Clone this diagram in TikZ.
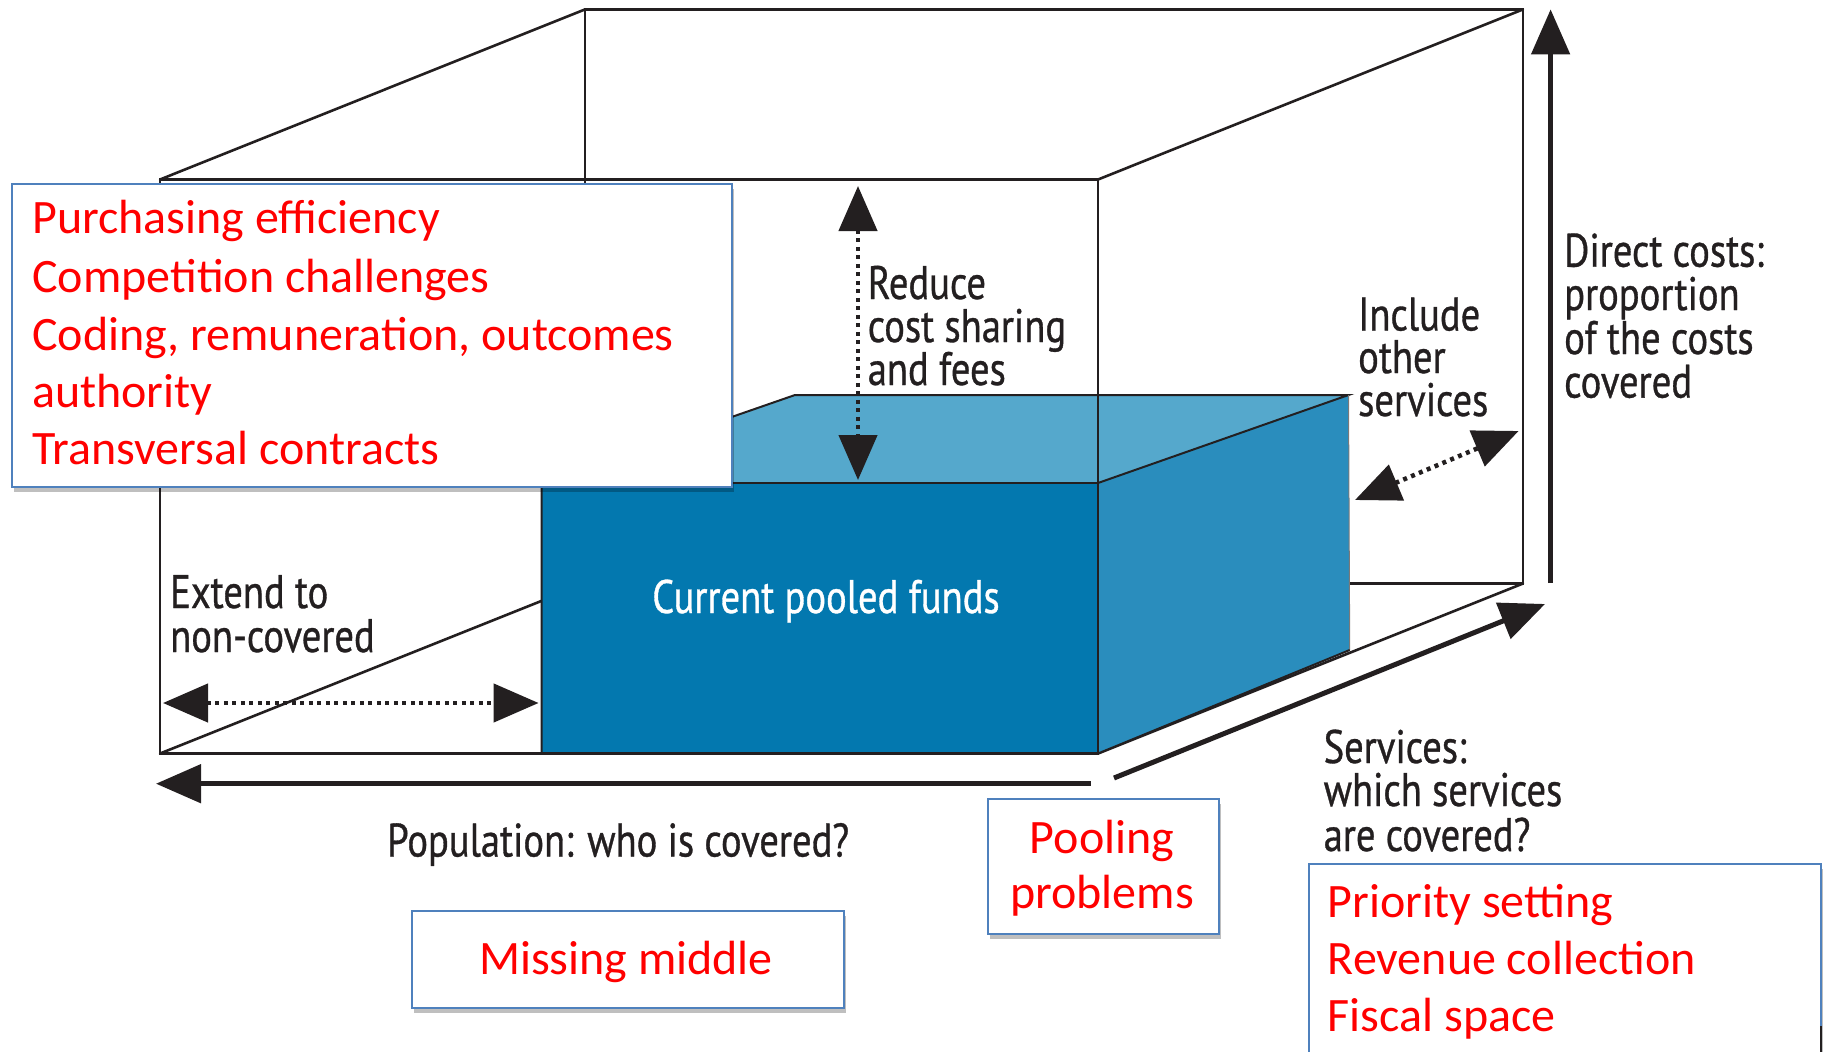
\documentclass[tikz,border=0pt]{standalone}
\usepackage{fontspec}
\setmainfont{Carlito}
\newfontfamily\myr[FakeStretch=0.82,FakeBold=0.7]{PT Sans}
\usetikzlibrary{arrows.meta,shadows}
\definecolor{ink}{HTML}{231F20}
\definecolor{frontblue}{HTML}{0378AF}
\definecolor{topblue}{HTML}{55A8CC}
\definecolor{sideblue}{HTML}{2A8DBD}
\definecolor{boxblue}{HTML}{4F81BD}
\definecolor{redtext}{HTML}{FF0000}
\begin{document}
\begin{tikzpicture}[x=1pt,y=-1pt,
  edge/.style={draw=ink, line width=2.6pt, line join=miter, line cap=round},
  thinedge/.style={draw=ink, line width=2pt},
  axis/.style={draw=ink, line width=5pt, -{Triangle[length=45pt,width=38pt]}},
  dots/.style={draw=ink, line width=4.5pt, dash pattern=on 4pt off 4.5pt,
     {Triangle[length=45pt,width=38pt]}-{Triangle[length=45pt,width=38pt]}},
  redbox/.style={draw=boxblue, line width=2pt, fill=white, inner sep=0pt,
     anchor=north west,
     drop shadow={shadow xshift=2pt, shadow yshift=-5pt, opacity=0.25, fill=black}},
  redtxt/.style={text=redtext, font=\fontsize{48}{52}\selectfont, inner sep=0pt, anchor=base west},
  redtxtc/.style={text=redtext, font=\fontsize{48}{52}\selectfont, inner sep=0pt, anchor=base},
  blk/.style={text=ink, font=\myr\fontsize{47}{50}\selectfont, inner sep=0pt, anchor=base west}]
\useasboundingbox (0,0) rectangle (1826,1052);
% outer box corners
\coordinate (A) at (160,179.5);
\coordinate (B) at (1098,179.5);
\coordinate (C) at (1098,753.5);
\coordinate (D) at (160,753.5);
\coordinate (E) at (585,9.4);
\coordinate (F) at (1523,9.4);
\coordinate (G) at (1523,583.5);
\coordinate (H) at (585,583.5);
% back lines
\draw[edge] (E) -- (F) -- (G) -- (H) -- cycle;
\draw[edge] (A) -- (E);
\draw[edge] (B) -- (F);
\draw[edge] (C) -- (G);
\draw[edge] (D) -- (H);
% blue box
\coordinate (P1) at (541.5,483);
\coordinate (P2) at (1098,483);
\coordinate (P3) at (1098,753.5);
\coordinate (P4) at (541.5,753.5);
\coordinate (Q1) at (795,395);
\coordinate (Q2) at (1348.5,395);
\coordinate (Q3) at (1349.7,650);
\fill[frontblue] (P1) -- (P2) -- (P3) -- (P4) -- cycle;
\fill[topblue] (P1) -- (Q1) -- (Q2) -- (P2) -- cycle;
\fill[sideblue] (P2) -- (Q2) -- (Q3) -- (P3) -- cycle;
\draw[thinedge] (P4) -- (P1) -- (Q1) -- (Q2) -- (P2);
\draw[thinedge] (P1) -- (P2);
\draw[draw=ink!60, line width=1pt] (Q2) -- (Q3);
\draw[thinedge] (Q3) -- (P3);
% front lines
\draw[edge] (A) -- (B) -- (C) -- (D) -- cycle;
% axis arrows
\coordinate (popS) at (1090.6,783.7);
\coordinate (popE) at (156,783.7);
\coordinate (srvS) at (1114,778);
\coordinate (srvE) at (1545,604);
\coordinate (dirS) at (1550.6,583);
\coordinate (dirE) at (1550.6,9.4);
\draw[axis] (popS) -- (popE);
\draw[axis] (srvS) -- (srvE);
\draw[axis] (dirS) -- (dirE);
% dotted arrows
\coordinate (redT) at (858,186);
\coordinate (redB) at (858,480);
\coordinate (extL) at (163,703);
\coordinate (extR) at (538.6,703);
\coordinate (incL) at (1355,500);
\coordinate (incR) at (1518.6,431);
\draw[dots] (redT) -- (redB);
\draw[dots] (extL) -- (extR);
\draw[dots] (incL) -- (incR);
% labels
\node[blk] (lred1) at (867.6,299) {Reduce};
\node[blk] (lred2) at (867.6,342) {cost sharing};
\node[blk] (lred3) at (867.6,385) {and fees};
\node[blk] (linc1) at (1358,330.5) {Include};
\node[blk] (linc2) at (1358,373) {other};
\node[blk] (linc3) at (1358,416) {services};
\node[blk] (ldir1) at (1564,266.7) {Direct costs:};
\node[blk] (ldir2) at (1564,310) {proportion};
\node[blk] (ldir3) at (1564,354) {of the costs};
\node[blk] (ldir4) at (1564,397.6) {covered};
\node[blk] (lext1) at (170,608) {Extend to};
\node[blk] (lext2) at (170,652) {non-covered};
\node[blk] (lsrv1) at (1323.5,763) {Services:};
\node[blk] (lsrv2) at (1323.5,806) {which services};
\node[blk] (lsrv3) at (1323.5,851) {are covered?};
\node[blk] (lpop) at (387,856.5) {Population: who is covered?};
\node[blk, text=white, anchor=base] (lcur) at (826,613) {Current pooled funds};
% red boxes
\node[redbox, minimum width=720.5pt, minimum height=303pt] (purch) at (10.5,183) {};
\node[redtxt] (t1) at (32,233) {Purchasing efficiency};
\node[redtxt] (t2) at (32,292) {Competition challenges};
\node[redtxt] (t3) at (32,350.6) {Coding, remuneration, outcomes};
\node[redtxt] (t4) at (32,407.6) {authority};
\node[redtxt] (t5) at (32,464.7) {Transversal contracts};
\node[redbox, minimum width=432pt, minimum height=96.5pt] (miss) at (410.5,910) {};
\node[redtxtc] (tmiss) at (626,974) {Missing middle};
\node[redbox, minimum width=231pt, minimum height=135pt] (pool) at (987,798.4) {};
\node[redtxtc] (tpool1) at (1102,853) {Pooling};
\node[redtxtc] (tpool2) at (1102,908.5) {problems};
\node[redbox, minimum width=511.6pt, minimum height=200pt] (prio) at (1308,862.5) {};
\node[redtxt] (tp1) at (1327.6,917) {Priority setting};
\node[redtxt] (tp2) at (1327.6,974) {Revenue collection};
\node[redtxt] (tp3) at (1327.6,1031) {Fiscal space};
\coordinate (barT) at (1821,1026);
\coordinate (barB) at (1821,1052);
\draw[ink, line width=2.5pt] (barT) -- (barB);
\end{tikzpicture}
\end{document}
